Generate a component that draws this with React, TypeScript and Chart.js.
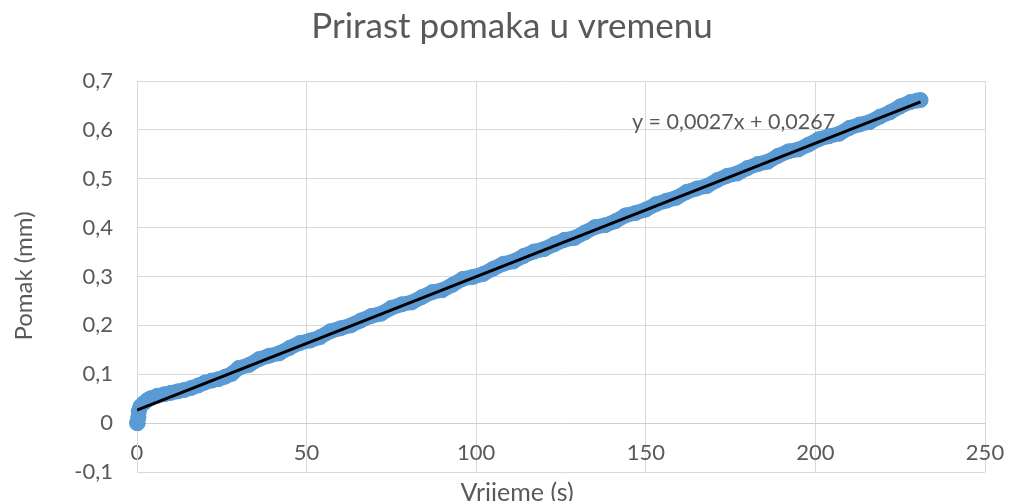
import React, { useEffect, useRef } from "react";
import { Chart, registerables } from "chart.js";

Chart.register(...registerables);

const TITLE = "Prirast pomaka u vremenu";
const X_TITLE = "Vrijeme (s)";
const Y_TITLE = "Pomak (mm)";

const timeS = [
  0, 0.2, 0.4, 0.5, 1, 2, 3, 4, 6, 8, 10, 12, 14, 16, 18, 20, 22, 24, 26, 28,
  30, 33, 36, 39, 42, 45, 48, 51, 54, 57, 60, 63, 66, 69, 72, 75, 78, 81, 84, 87,
  90, 93, 96, 99, 102, 105, 108, 111, 114, 117, 120, 123, 126, 129, 132, 135, 138,
  141, 144, 147, 150, 153, 156, 159, 162, 165, 168, 171, 174, 177, 180, 183, 186,
  189, 192, 195, 198, 201, 204, 207, 210, 213, 216, 219, 222, 225, 228, 230, 231,
];

const displacementMm = [
  0, 0, 0.012, 0.024, 0.034, 0.041, 0.047, 0.051, 0.056, 0.059, 0.062, 0.065, 0.068,
  0.072, 0.077, 0.083, 0.087, 0.09, 0.095, 0.101,
  0.113, 0.119, 0.131, 0.138, 0.143, 0.154, 0.164, 0.169, 0.176, 0.188, 0.194,
  0.2, 0.21, 0.219, 0.224, 0.236, 0.243, 0.247, 0.258, 0.268,
  0.272, 0.283, 0.295, 0.299, 0.305, 0.316, 0.326, 0.331, 0.342, 0.351, 0.356,
  0.366, 0.375, 0.379, 0.39, 0.401, 0.405,
  0.413, 0.425, 0.43, 0.437, 0.448, 0.455, 0.461, 0.473, 0.48, 0.485, 0.497,
  0.506, 0.511, 0.522, 0.53, 0.535,
  0.547, 0.556, 0.56, 0.57, 0.581, 0.587, 0.592, 0.604, 0.611, 0.616, 0.627,
  0.636, 0.648, 0.657, 0.66, 0.661,
];

const trendSlope = 0.00273;
const trendIntercept = 0.0267;

const xTicks = [0, 50, 100, 150, 200, 250];
const yTicks = [-0.1, 0, 0.1, 0.2, 0.3, 0.4, 0.5, 0.6, 0.7];

const FONT = "Lato, 'Open Sans', sans-serif";
const TEXT = "#595959";
const GRID = "#d9d9d9";
const BLUE = "#5b9bd5";

const fmtDec = (v: number, d: number) => {
  const r = Math.round(v * Math.pow(10, d)) / Math.pow(10, d);
  if (r === 0) return "0";
  return r.toFixed(d).replace(".", ",");
};

const textPlugin = {
  id: "texts",
  afterDraw(chart: any) {
    const ctx = chart.ctx;
    ctx.save();
    ctx.fillStyle = TEXT;
    ctx.textBaseline = "alphabetic";
    ctx.textAlign = "center";
    ctx.font = `35px ${FONT}`;
    ctx.fillText(TITLE, 512, 38);

    ctx.font = `25px ${FONT}`;
    ctx.fillText(X_TITLE, 517, 501);

    ctx.save();
    ctx.font = `24px ${FONT}`;
    ctx.translate(32, 276);
    ctx.rotate(-Math.PI / 2);
    ctx.fillText(Y_TITLE, 0, 0);
    ctx.restore();

    const eq = `y = ${fmtDec(trendSlope, 4)}x + ${fmtDec(trendIntercept, 4)}`;
    ctx.font = `21.5px ${FONT}`;
    ctx.textAlign = "left";
    ctx.fillText(eq, 632, 129);
    ctx.restore();
  },
};

export default function App() {
  const ref = useRef<HTMLCanvasElement>(null);

  useEffect(() => {
    if (!ref.current) return;
    const points = timeS.map((t, i) => ({ x: t, y: displacementMm[i] }));
    const xEnd = timeS[timeS.length - 1];
    const trend = [
      { x: timeS[0], y: trendIntercept + trendSlope * timeS[0] },
      { x: xEnd, y: trendIntercept + trendSlope * xEnd },
    ];
    const chart = new Chart(ref.current, {
      type: "scatter",
      data: {
        datasets: [
          {
            label: "Trend",
            data: trend,
            showLine: true,
            borderColor: "#000000",
            borderWidth: 3,
            pointRadius: 0,
            order: 0,
          },
          {
            label: "Pomak",
            data: points,
            showLine: true,
            clip: false,
            borderColor: BLUE,
            backgroundColor: BLUE,
            borderWidth: 15,
            borderCapStyle: "round",
            borderJoinStyle: "round",
            pointRadius: 7.5,
            pointBorderWidth: 1,
            pointBorderColor: BLUE,
            order: 1,
          },
        ],
      },
      options: {
        animation: false,
        responsive: false,
        layout: { padding: { left: 0, right: 24, top: 81, bottom: 29 } },
        plugins: {
          legend: { display: false },
          tooltip: { enabled: false },
          title: { display: false },
        },
        scales: {
          x: {
            type: "linear",
            position: { y: 0 } as any,
            min: 0,
            max: 250,
            afterFit: (s: any) => {
              s.height = 0;
              s.paddingLeft = 0;
              s.paddingRight = 0;
            },
            afterBuildTicks: (s: any) => {
              s.ticks = xTicks.map((v) => ({ value: v }));
            },
            grid: { color: GRID, lineWidth: 1, drawTicks: false },
            border: { color: "#cfcfcf", width: 1 },
            ticks: {
              color: TEXT,
              font: { family: FONT, size: 22 },
              padding: 17,
              maxRotation: 0,
              callback: (v: any) => String(v),
            },
          },
          y: {
            type: "linear",
            position: "left",
            min: -0.1,
            max: 0.7,
            afterFit: (s: any) => {
              s.width = 137;
              s.paddingTop = 0;
              s.paddingBottom = 0;
            },
            afterBuildTicks: (s: any) => {
              s.ticks = yTicks.map((v) => ({ value: v }));
            },
            grid: { color: GRID, lineWidth: 1, drawTicks: false },
            border: { color: GRID, width: 1 },
            ticks: {
              color: TEXT,
              font: { family: FONT, size: 22 },
              padding: 24,
              callback: (v: any) => fmtDec(Number(v), 1),
            },
          },
        },
      },
      plugins: [textPlugin],
    });
    return () => chart.destroy();
  }, []);

  return (
    <div style={{ position: "absolute", left: 0, top: 0, width: 1009, height: 501, background: "#fff" }}>
      <canvas ref={ref} width={1009} height={501} style={{ display: "block" }} />
    </div>
  );
}
